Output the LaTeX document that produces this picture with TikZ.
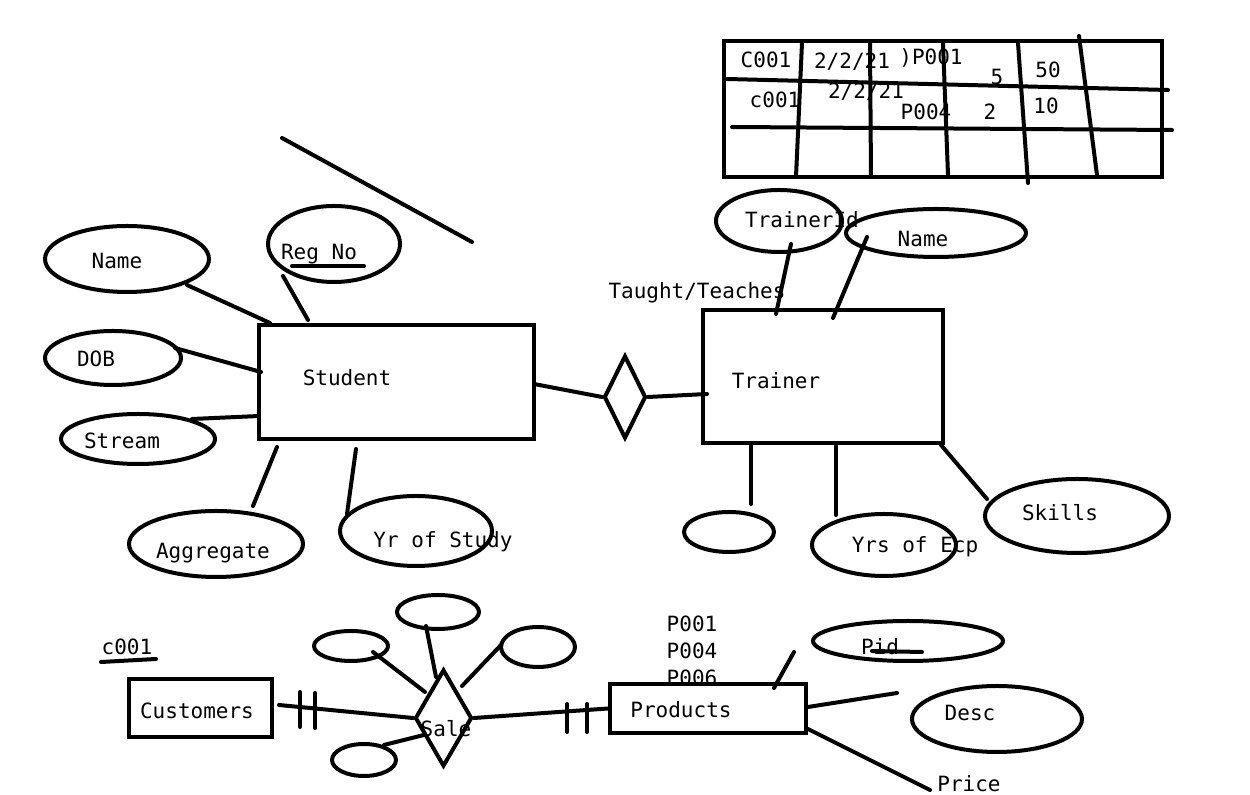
\documentclass[tikz,border=0pt]{standalone}
\usepackage{fontspec}
\newfontfamily\mono{DejaVu Sans Mono}
\usetikzlibrary{shapes.geometric}
\begin{document}
\begin{tikzpicture}[x=0.5pt,y=-0.5pt, line width=2pt, line cap=round, line join=round,
 ell/.style={draw, ellipse, inner sep=0pt},
 ent/.style={draw, rectangle, inner sep=0pt},
 rel/.style={draw, diamond, inner sep=0pt, line join=miter},
 txt/.style={font=\mono\fontsize{10.5}{12}\selectfont, inner sep=0pt}]
\fill[white] (0,0) rectangle (1250,795);
\useasboundingbox (0,0) rectangle (1250,795);

% ---------- table ----------
\node[ent, minimum width=219pt, minimum height=68pt, line join=miter] (table) at (943,109) {};
\draw (727,79) -- (1168,90);
\draw (732,127) -- (1172,130);
\draw (802,43) -- (796,177);
\draw (870,43) -- (871,177);
\draw (943,43) -- (948,175);
\draw (1018,43) -- (1028,183);
\draw (1079,36) -- (1097,175);
\node[txt] (t1) at (766,60) {C001};
\node[txt] (t2) at (852,62) {2/2/21};
\node[txt] (t3) at (931,58) {)P001};
\node[txt] (t4) at (997,77) {5};
\node[txt] (t5) at (1048,70) {50};
\node[txt] (t6) at (775,100) {c001};
\node[txt] (t7) at (866,92) {2/2/21};
\node[txt] (t8) at (926,112) {P004};
\node[txt] (t9) at (990,112) {2};
\node[txt] (t10) at (1046,106) {10};

% ---------- stray line ----------
\coordinate (s1) at (282,138);
\coordinate (s2) at (472,242);
\draw (s1) -- (s2);

% ---------- Student ----------
\node[ent, minimum width=137.5pt, minimum height=57pt, line join=miter] (student) at (396.5,382) {};
\node[txt] (studentT) at (347,378) {Student};

\node[ell, minimum width=82pt, minimum height=33pt] (sname) at (127,259) {};
\node[txt] at (117,261) {Name};
\draw (187,285) -- (270,323);

\node[ell, minimum width=66pt, minimum height=38pt] (regno) at (334,244) {};
\node[txt] (regnoT) at (319,254) {Reg No};
\draw (292,266) -- (364,266);
\draw (283,276) -- (308,320);

\node[ell, minimum width=68pt, minimum height=27pt] (dob) at (113,358) {};
\node[txt] at (96,359) {DOB};
\draw (175,348) -- (261,372);

\node[ell, minimum width=77pt, minimum height=25pt] (stream) at (138,439) {};
\node[txt] at (122,441) {Stream};
\draw (192,419) -- (259,416);

\node[ell, minimum width=87pt, minimum height=33pt] (aggr) at (216,544) {};
\node[txt] at (213,553) {Aggregate};
\draw (253,506) -- (277,447);

\node[ell, minimum width=76pt, minimum height=35pt] (yrs) at (416,531) {};
\node[txt] at (443,542) {Yr of Study};
\draw (347,514) -- (356,449);

% ---------- relationship ----------
\node[rel, minimum width=21pt, minimum height=41.5pt] (teach) at (625,397) {};
\node[txt] at (697,293) {Taught/Teaches};
\draw (534,384) -- (teach.west);
\draw (teach.east) -- (707,394);

% ---------- Trainer ----------
\node[ent, minimum width=120pt, minimum height=66.5pt, line join=miter] (trainer) at (823,376.5) {};
\node[txt] at (776,381) {Trainer};

\node[ell, minimum width=63pt, minimum height=31pt] (tid) at (779,221) {};
\node[txt] at (802,220) {TrainerId};
\draw (791,244) -- (776,314);

\node[ell, minimum width=90pt, minimum height=24pt] (tname) at (936,233) {};
\node[txt] at (923,239) {Name};
\draw (867,237) -- (833,318);

\node[ell, minimum width=45pt, minimum height=20pt] (empty1) at (729,532) {};
\draw (751,446) -- (751,504);

\node[ell, minimum width=72pt, minimum height=31pt] (ecp) at (884,545) {};
\node[txt] at (915,547) {Yrs of Ecp};
\draw (836,446) -- (836,515);

\node[ell, minimum width=92pt, minimum height=37pt] (skills) at (1077,516) {};
\node[txt] at (1060,513) {Skills};
\draw (941,445) -- (987,499);

% ---------- bottom ----------
\node[txt] at (127,647) {c001};
\draw (101,662) -- (156,659);

\node[ent, minimum width=71.5pt, minimum height=29pt, line join=miter] (cust) at (200.5,708) {};
\node[txt] at (197,711) {Customers};

\node[rel, minimum width=28.5pt, minimum height=48.5pt] (sale) at (443.5,718) {};
\node[txt] at (446,729) {Sale};

\draw (279,705) -- (sale.west);
\draw (300,692) -- (300,727);
\draw (315,693) -- (315,728);

\node[txt] at (692,624) {P001};
\node[txt] at (692,651) {P004};
\node[txt] at (692,678) {P006};
\node[ent, fill=white, minimum width=98pt, minimum height=24.5pt, line join=miter] (prod) at (708,708.5) {};
\node[txt] at (681,710) {Products};
\draw (sale.east) -- (prod.west);
\draw (567,704) -- (567,732);
\draw (587,704) -- (587,732);

\node[ell, minimum width=37pt, minimum height=15pt] (e1) at (351,646) {};
\draw (373,652) -- (425,692);
\node[ell, minimum width=41pt, minimum height=17pt] (e2) at (438,612) {};
\draw (426,626) -- (436,677);
\node[ell, minimum width=37pt, minimum height=20pt] (e3) at (538,647) {};
\draw (501,645) -- (462,686);
\node[ell, minimum width=32pt, minimum height=16pt] (e4) at (364,760) {};
\draw (384,745) -- (424,735);

\draw (794,652) -- (774,688);

\node[ell, minimum width=95pt, minimum height=20pt] (pid) at (908,641) {};
\node[txt] at (880,647) {Pid};
\draw (872,651) -- (922,652);
\draw (808,707) -- (897,693);

\node[ell, minimum width=85pt, minimum height=33pt] (desc) at (997,719) {};
\node[txt] at (970,713) {Desc};

\node[txt] (price) at (969,784) {Price};
\draw (808,729) -- (930,790);
\end{tikzpicture}
\end{document}
